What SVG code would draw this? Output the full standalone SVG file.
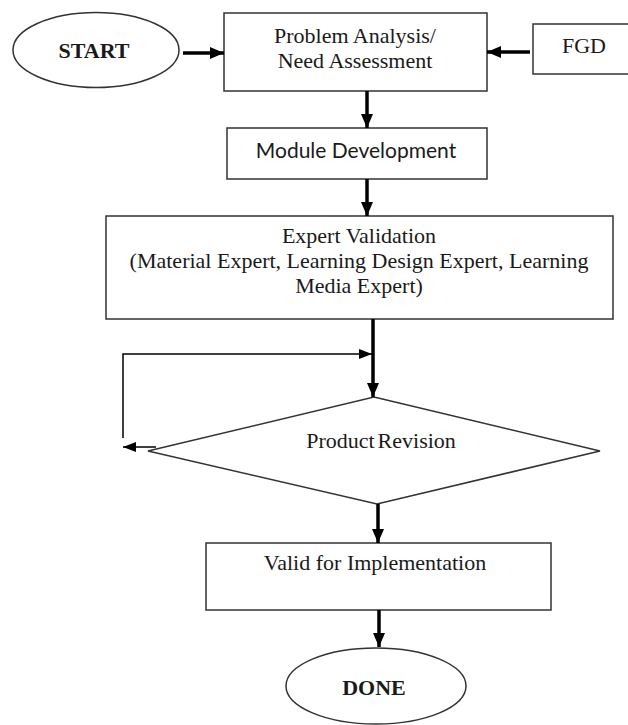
<svg xmlns="http://www.w3.org/2000/svg" width="628" height="725" viewBox="0 0 628 725">
<style>
.shape{fill:#fff;stroke:#333;stroke-width:1.5}
.t{font-family:"Liberation Serif","Times New Roman",serif;font-size:22px;fill:#1a1a1a;text-anchor:middle}
.b{font-weight:bold}
.s{font-family:Lato,"Open Sans",sans-serif;font-size:21px;fill:#1a1a1a;text-anchor:middle}
.thick{stroke:#000;stroke-width:3.5;fill:none}
.thin{stroke:#000;stroke-width:1.5;fill:none}
</style>
<defs>
<marker id="ah" markerUnits="userSpaceOnUse" markerWidth="14" markerHeight="12" refX="14" refY="6" orient="auto">
<path d="M0,0 L14,6 L0,12 z" fill="#000"/>
</marker>
<marker id="ahs" markerUnits="userSpaceOnUse" markerWidth="13" markerHeight="10" refX="13" refY="5" orient="auto">
<path d="M0,0 L13,5 L0,10 z" fill="#000"/>
</marker>
</defs>
<rect width="628" height="725" fill="#fff"/>
<g id="start">
<ellipse class="shape" cx="96" cy="50" rx="83" ry="37.5"/>
<text class="t b" x="94" y="58" font-size="20">START</text>
</g>
<g id="problem">
<rect class="shape" x="224" y="13" width="263" height="78"/>
<text class="t" x="355" y="43">Problem Analysis/</text>
<text class="t" x="355" y="68">Need Assessment</text>
</g>
<g id="fgd">
<rect class="shape" x="533" y="24" width="110" height="50"/>
<text class="t" x="584" y="53">FGD</text>
</g>
<g id="module">
<rect class="shape" x="227" y="128" width="260" height="51"/>
<text class="s" x="356" y="158">Module Development</text>
</g>
<g id="expert">
<rect class="shape" x="106" y="216" width="507" height="103"/>
<text class="t" x="359" y="243">Expert Validation</text>
<text class="t" x="359" y="268">(Material Expert, Learning Design Expert, Learning</text>
<text class="t" x="359" y="293">Media Expert)</text>
</g>
<g id="revision">
<polygon class="shape" points="374,397 600,451 377,504 148,451"/>
<text class="t" x="381" y="448" word-spacing="-2.5">Product Revision</text>
</g>
<g id="valid">
<rect class="shape" x="206" y="543" width="345" height="67"/>
<text class="t" x="375" y="570">Valid for Implementation</text>
</g>
<g id="done">
<ellipse class="shape" cx="376" cy="686" rx="90" ry="38"/>
<text class="t b" x="374" y="695">DONE</text>
</g>
<g id="connectors">
<line class="thick" x1="183" y1="53" x2="224" y2="53" marker-end="url(#ah)"/>
<line class="thick" x1="530" y1="52" x2="487" y2="52" marker-end="url(#ah)"/>
<line class="thick" x1="367" y1="91" x2="367" y2="128" marker-end="url(#ah)"/>
<line class="thick" x1="367" y1="179" x2="367" y2="216" marker-end="url(#ah)"/>
<line class="thick" x1="373" y1="319" x2="373" y2="397" marker-end="url(#ah)"/>
<line class="thick" x1="378" y1="504" x2="378" y2="543" marker-end="url(#ah)"/>
<line class="thick" x1="379" y1="610" x2="379" y2="647" marker-end="url(#ah)"/>
<line class="thin" x1="156" y1="447" x2="123" y2="447" marker-end="url(#ahs)"/>
<polyline class="thin" points="123,438 123,354 372,354" marker-end="url(#ahs)"/>
</g>
</svg>
